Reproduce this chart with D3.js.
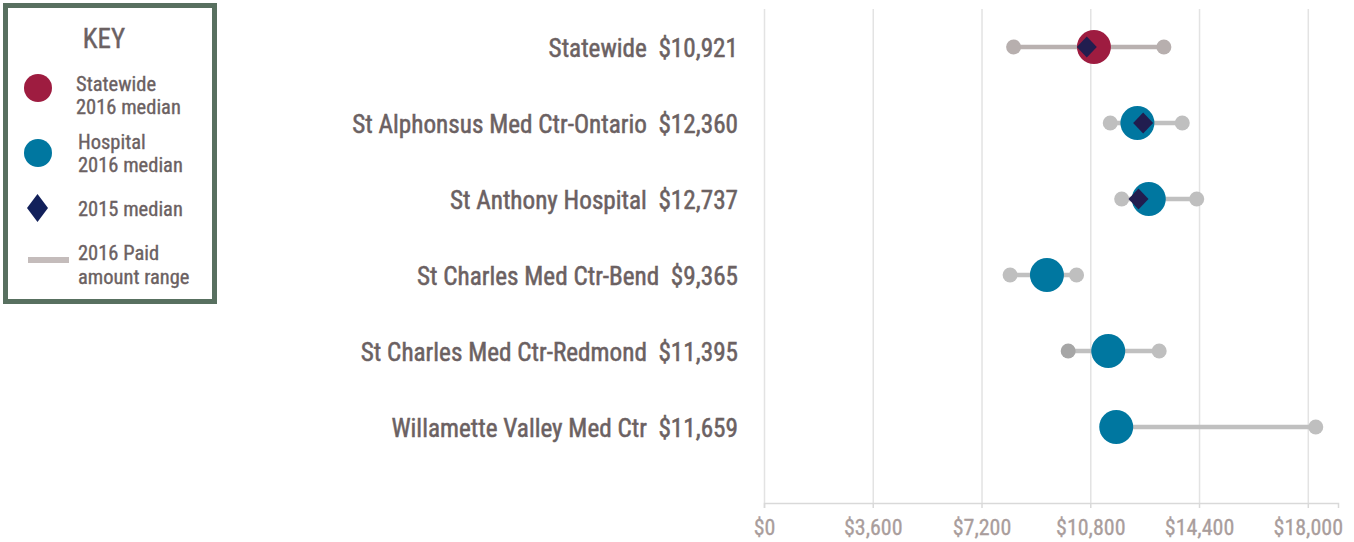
<!DOCTYPE html>
<html>
<head>
<meta charset="utf-8">
<script src="https://cdn.jsdelivr.net/npm/d3@7"></script>
<style>
  body { margin: 0; background: #fff; }
  svg { display: block; }
  text { font-family: "Liberation Sans Narrow", "Roboto Condensed", "DejaVu Sans Condensed", "Liberation Sans", sans-serif; }
</style>
</head>
<body>
<div id="chart"></div>
<script>
'use strict';

// chart data
var categories = ['Statewide', 'St Alphonsus Med Ctr-Ontario', 'St Anthony Hospital',
  'St Charles Med Ctr-Bend', 'St Charles Med Ctr-Redmond', 'Willamette Valley Med Ctr'];
var median2016 = [10921, 12360, 12737, 9365, 11395, 11659];
var median2015 = [10685, 12550, 12396, null, null, null];
var rangeMin = [8262, 11462, 11839, 8146, 10069, 11450];
var rangeMax = [13236, 13845, 14324, 10346, 13081, 18264];
var xTicks = [0, 3600, 7200, 10800, 14400, 18000];
var xMax = 19000;

var legendItems = [
  { kind: 'state', lines: ['Statewide', '2016 median'] },
  { kind: 'hosp', lines: ['Hospital', '2016 median'] },
  { kind: 'diamond', lines: ['2015 median'] },
  { kind: 'range', lines: ['2016 Paid', 'amount range'] }
];

var width = 1354, height = 542;
var textColor = '#6b6162';

var svg = d3.select('#chart').append('svg')
  .attr('width', width)
  .attr('height', height);

var x = d3.scaleLinear().domain([0, xMax]).range([764, 1338]);
var y = d3.scalePoint().domain(categories).range([47, 427]);
var fmt = d3.format(',');

var rows = categories.map((c, i) => ({
  name: c, i: i,
  med: median2016[i], prev: median2015[i],
  lo: rangeMin[i], hi: rangeMax[i]
}));

// gridlines
svg.append('g')
  .attr('class', 'grid')
  .attr('transform', 'translate(0,503)')
  .call(d3.axisBottom(x).tickValues(xTicks).tickSize(-494).tickFormat(''))
  .call(g => g.select('.domain').remove())
  .call(g => g.selectAll('line').attr('stroke', '#e3e3e3').attr('stroke-width', 1.5));

// x axis
svg.append('g')
  .attr('transform', 'translate(0,503)')
  .call(d3.axisBottom(x).tickValues(xTicks).tickSize(5).tickPadding(11)
    .tickFormat(d => '$' + fmt(d)))
  .call(g => g.select('.domain').attr('stroke', '#d9d9d9').attr('stroke-width', 1.5))
  .call(g => g.selectAll('.tick line').attr('stroke', '#d9d9d9').attr('stroke-width', 1.5))
  .call(g => g.selectAll('.tick text')
    .attr('fill', '#a99d9c')
    .attr('stroke', '#a99d9c')
    .attr('stroke-width', 0.3)
    .style('font-size', '22px'));

// category labels with the 2016 median
svg.append('g').selectAll('text')
  .data(rows)
  .enter().append('text')
  .attr('x', 738)
  .attr('y', d => y(d.name))
  .attr('dy', '0.38em')
  .attr('text-anchor', 'end')
  .attr('fill', textColor)
  .attr('stroke', textColor)
  .attr('stroke-width', 0.5)
  .style('font-size', '25.2px')
  .style('white-space', 'pre')
  .text(d => d.name + '  $' + fmt(d.med));

var plot = svg.append('g');

// paid amount range
plot.selectAll('.range')
  .data(rows)
  .enter().append('line')
  .attr('class', 'range')
  .attr('x1', d => x(d.lo))
  .attr('x2', d => x(d.hi))
  .attr('y1', d => y(d.name))
  .attr('y2', d => y(d.name))
  .attr('stroke', d => d.i === 0 ? '#b9b1b0' : '#c0c0c0')
  .attr('stroke-width', 4.5);

var ends = [];
rows.forEach(d => {
  ends.push({ row: d, v: d.lo, end: 'lo' });
  ends.push({ row: d, v: d.hi, end: 'hi' });
});

plot.selectAll('.end')
  .data(ends)
  .enter().append('circle')
  .attr('class', 'end')
  .attr('cx', d => x(d.v))
  .attr('cy', d => y(d.row.name))
  .attr('r', 7.5)
  .attr('fill', d => {
    if (d.row.i === 0) return '#b7afae';
    if (d.row.name === 'St Charles Med Ctr-Redmond' && d.end === 'lo') return '#a6a6a6';
    return '#bfbfbf';
  });

// 2016 medians
plot.selectAll('.med')
  .data(rows)
  .enter().append('circle')
  .attr('class', 'med')
  .attr('cx', d => x(d.med))
  .attr('cy', d => y(d.name))
  .attr('r', 17)
  .attr('fill', d => d.i === 0 ? '#9e1c40' : '#0077a0');

// 2015 medians
var diamond = (cx, cy, w, h) =>
  'M' + cx + ',' + (cy - h) + 'L' + (cx + w) + ',' + cy + 'L' + cx + ',' + (cy + h) + 'L' + (cx - w) + ',' + cy + 'Z';

plot.selectAll('.prev')
  .data(rows.filter(d => d.prev != null))
  .enter().append('path')
  .attr('class', 'prev')
  .attr('d', d => diamond(x(d.prev), y(d.name), 10, 10.5))
  .attr('fill', '#211d4f');

// legend / key box
var key = svg.append('g');
key.append('rect')
  .attr('x', 5.5).attr('y', 5.5)
  .attr('width', 209).attr('height', 296)
  .attr('fill', '#fff')
  .attr('stroke', '#587060')
  .attr('stroke-width', 5);

key.append('text')
  .attr('x', 104).attr('y', 47.5)
  .attr('text-anchor', 'middle')
  .attr('fill', textColor)
  .attr('stroke', textColor)
  .attr('stroke-width', 0.4)
  .style('font-size', '27px')
  .text('KEY');

var keyY = [88, 153, 208, 260];
var keyBase = [90.5, 148.5, 216, 260];
legendItems.forEach((it, i) => {
  var cy = keyY[i];
  if (it.kind === 'state' || it.kind === 'hosp') {
    key.append('circle').attr('cx', 38).attr('cy', cy).attr('r', 14)
      .attr('fill', it.kind === 'state' ? '#9e1c40' : '#0077a0');
  } else if (it.kind === 'diamond') {
    key.append('path').attr('d', diamond(37.5, cy, 10.5, 14)).attr('fill', '#12205a');
  } else {
    key.append('line').attr('x1', 28).attr('x2', 69).attr('y1', cy).attr('y2', cy)
      .attr('stroke', '#c4bcbb').attr('stroke-width', 6);
  }
  var t = key.append('text')
    .attr('fill', textColor)
    .attr('stroke', textColor)
    .attr('stroke-width', 0.35)
    .style('font-size', '20.5px');
  it.lines.forEach((ln, j) => {
    t.append('tspan')
      .attr('x', i === 0 ? 76 : 78)
      .attr('y', keyBase[i] + j * 23.8)
      .text(ln);
  });
});
</script>
</body>
</html>
